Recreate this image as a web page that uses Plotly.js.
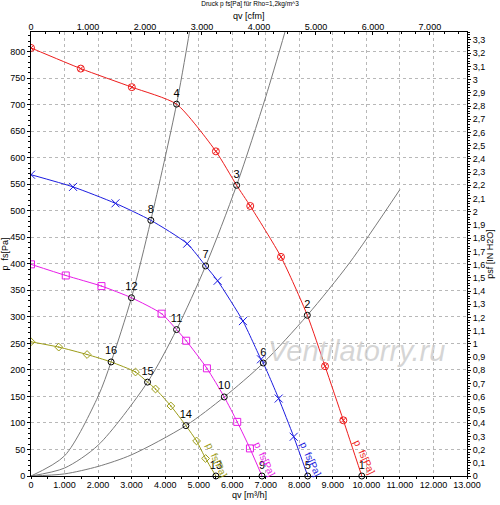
<!DOCTYPE html>
<html>
<head>
<meta charset="utf-8">
<script src="https://cdn.plot.ly/plotly-3.0.1.min.js"></script>
<style>html,body{margin:0;padding:0;background:#fff;}#chart{width:500px;height:505px;}</style>
</head>
<body>
<div id="chart"></div>
<script>
// Fan curves: marker points (qv [m3/h], p fs [Pa])
const redQ = [0, 1484, 3006, 5513, 6537, 7454, 8767, 9313];
const redP = [807, 768, 733, 612, 509, 413, 207, 105];
const blueQ = [0, 1254, 2519, 4657, 5564, 6319, 6857, 7385, 7833];
const blueP = [568, 545, 514, 438, 368, 292, 220, 146, 74];
const magentaQ = [0, 1036, 2101, 3893, 4627, 5245, 6149, 6528];
const magentaP = [399, 378, 358, 306, 255, 203, 102, 52];
const oliveQ = [0, 827, 1672, 3116, 3713, 4170, 4937, 5206];
const oliveP = [253, 243, 229, 196, 164, 132, 66, 33];

// Operating points (numbered)
const opLabel = ['1','2','3','4','5','6','7','8','9','10','11','12','13','14','15','16'];
const opQ = [9863, 8239, 6131, 4340, 8251, 6925, 5206, 3573, 6887, 5761, 4340, 2996, 5513, 4618, 3475, 2388];
const opP = [0, 303, 548, 701, 0, 213, 396, 482, 0, 149, 276, 336, 0, 95, 177, 215];
const opCurve = ['red','red','red','red','blue','blue','blue','blue','magenta','magenta','magenta','magenta','olive','olive','olive','olive'];

// System curves
const sysAQ = [0, 1000, 2000, 2388, 2996, 3573, 4340, 4760];
const sysAP = [0, 38, 150, 215, 336, 482, 701, 850];
const sysBQ = [0, 1000, 2000, 3475, 4340, 5206, 6131, 7000, 7600];
const sysBP = [0, 15, 58, 177, 276, 396, 548, 715, 843];
const sysCQ = [0, 1000, 2000, 3000, 4618, 5761, 6925, 8239, 9500, 11000];
const sysCP = [0, 4, 18, 40, 95, 149, 213, 303, 402, 540];

const curveLabel = 'p  fs[Pa]';
const titleText = 'Druck p fs[Pa] für Rho=1,2kg/m^3';
const watermark = 'Ventilatorry.ru';
const xTitle = 'qv [m³/h]';
const x2Title = 'qv [cfm]';

const colors = {red:'#ee1c1c', blue:'#1c1ce0', magenta:'#e81ce8', olive:'#9c9c18'};
const symbols = {red:'circle-x-open', blue:'x-thin-open', magenta:'square-open-dot', olive:'diamond-open-dot'};
const sizes = {red:7, blue:8, magenta:7, olive:6};
const curves = {red:[redQ,redP], blue:[blueQ,blueP], magenta:[magentaQ,magentaP], olive:[oliveQ,oliveP]};

const traces = [];
[[sysAQ,sysAP],[sysBQ,sysBP],[sysCQ,sysCP]].forEach(([q,p]) => {
  traces.push({x:q, y:p, mode:'lines', line:{color:'#7a7a7a', width:1, shape:'spline', smoothing:0.8}, hoverinfo:'skip'});
});
Object.keys(curves).forEach(k => {
  const [q,p] = curves[k];
  const pts = q.map((v,i)=>[v,p[i]]);
  opQ.forEach((v,i)=>{ if(opCurve[i]===k) pts.push([v,opP[i]]); });
  pts.sort((a,b)=>a[0]-b[0]);
  traces.push({x:pts.map(d=>d[0]), y:pts.map(d=>d[1]), mode:'lines', line:{color:colors[k], width:1, shape:'spline', smoothing:0.6}, hoverinfo:'skip'});
  traces.push({x:q, y:p, mode:'markers', marker:{symbol:symbols[k], size:sizes[k], color:colors[k], line:{width:1, color:colors[k]}}, hoverinfo:'skip'});
});
traces.push({x:opQ, y:opP, mode:'markers+text', text:opLabel, textposition:'top center',
  textfont:{size:11, color:'#000', family:'Liberation Sans, Arial, sans-serif'},
  marker:{symbol:'circle-open', size:6, color:'#000', line:{width:1, color:'#000'}}, cliponaxis:false, hoverinfo:'skip'});
traces.push({x:[0, 7651.4], y:[0, 3.36], xaxis:'x2', yaxis:'y2', mode:'markers', marker:{opacity:0}, hoverinfo:'skip'});

const annotations = [];
const labelPos = {red:[9949,35], blue:[8339,31], magenta:[6968,31], olive:[5537,29]};
Object.keys(labelPos).forEach(k => {
  annotations.push({x:labelPos[k][0], y:labelPos[k][1], xref:'x', yref:'y', text:curveLabel, showarrow:false,
    textangle:65, font:{size:10, color:colors[k], family:'Liberation Sans, Arial, sans-serif'}});
});
annotations.push({x:9711, y:235, xref:'x', yref:'y', text:watermark, showarrow:false,
  font:{size:29, color:'rgba(200,200,200,0.75)', family:'Liberation Sans, Arial, sans-serif', style:'italic'}});
annotations.push({x:0.5, y:1, xref:'paper', yref:'paper', yshift:16, yanchor:'middle', text:x2Title, showarrow:false, font:{size:9, color:'#000'}});
annotations.push({x:0.5, y:0, xref:'paper', yref:'paper', yshift:-19, yanchor:'middle', text:xTitle, showarrow:false, font:{size:9, color:'#000'}});

const axBase = {showline:true, linecolor:'#000', linewidth:1, zeroline:false, ticks:'outside', ticklen:3, tickcolor:'#000', tickwidth:1,
  tickfont:{size:9, color:'#000'}, automargin:false};

const layout = {
  width:500, height:505,
  margin:{l:31, r:33, t:32, b:29, pad:0},
  paper_bgcolor:'#fff', plot_bgcolor:'#fff',
  separators:',.',
  font:{family:'Liberation Sans, Arial, sans-serif', size:9, color:'#000'},
  showlegend:false,
  title:{text:titleText, font:{size:6.5, color:'#000'}, x:0.5, xanchor:'center', y:0.997, yanchor:'top'},
  xaxis:Object.assign({}, axBase, {range:[0,13000], dtick:1000, tickformat:',.0f', separatethousands:true, ticklen:2, ticklabelstandoff:-2,
    showgrid:true, gridcolor:'#b8b8b8', griddash:'dot', gridwidth:1,
    minor:{dtick:500, ticklen:2, ticks:'outside', tickcolor:'#000', showgrid:false}}),
  yaxis:Object.assign({}, axBase, {range:[0,837], dtick:50, showgrid:true, gridcolor:'#b8b8b8', griddash:'dot', gridwidth:1,
    minor:{dtick:10, ticklen:2, ticks:'outside', tickcolor:'#000', showgrid:false},
    title:{text:'p  fs[Pa]', font:{size:9}, standoff:2}}),
  xaxis2:Object.assign({}, axBase, {overlaying:'x', side:'top', range:[0,7651.4], dtick:1000, tickformat:',.0f', separatethousands:true,
    ticks:'inside', ticklen:3, ticklabelstandoff:-3, showgrid:false, minor:{dtick:250, ticklen:2, ticks:'inside', tickcolor:'#000'}}),
  yaxis2:Object.assign({}, axBase, {overlaying:'y', side:'right', anchor:'x', range:[0,3.3603], dtick:0.1, showgrid:false,
    minor:{dtick:0.02, ticklen:2, ticks:'outside', tickcolor:'#000'},
    title:{text:'psf [IN H2O]', font:{size:9}, standoff:2}}),
  annotations:annotations
};

Plotly.newPlot('chart', traces, layout, {staticPlot:true, displayModeBar:false});
</script>
</body>
</html>
